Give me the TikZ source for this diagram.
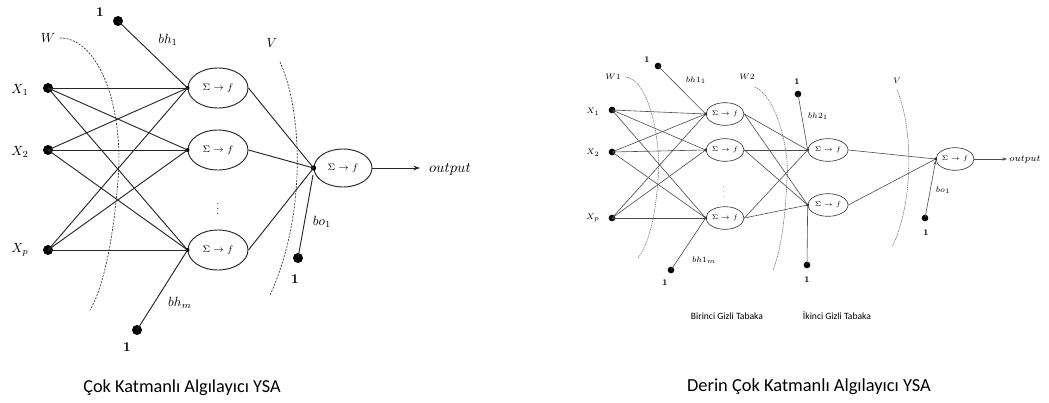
\documentclass[tikz,border=0pt]{standalone}
\usepackage{fontspec}
\newfontfamily\capfont{Carlito}
\usetikzlibrary{shapes.geometric,arrows.meta}
\begin{document}
\begin{tikzpicture}[x=0.75pt,y=-0.75pt,
  bigdot/.style={circle,fill=black,inner sep=0pt,minimum size=7.5pt},
  smalldot/.style={circle,fill=black,inner sep=0pt,minimum size=3pt},
  lneuron/.style={ellipse,draw=black!85,line width=0.7pt,minimum width=45pt,minimum height=30pt,inner sep=0pt,font=\fontsize{7}{8}\selectfont},
  rneuron/.style={ellipse,draw=black!75,line width=0.5pt,minimum width=28.5pt,minimum height=17pt,inner sep=0pt,font=\fontsize{5}{6}\selectfont},
  rbigdot/.style={circle,fill=black,inner sep=0pt,minimum size=5pt},
  rsmalldot/.style={circle,fill=black,inner sep=0pt,minimum size=2.2pt},
  lwire/.style={draw=black!85,line width=0.7pt},
  rwire/.style={draw=black!70,line width=0.45pt},
  llab/.style={font=\fontsize{10}{12}\selectfont},
  rlab/.style={font=\fontsize{6.5}{8}\selectfont},
  lone/.style={font=\fontsize{10}{12}\selectfont\bfseries},
  rone/.style={font=\fontsize{6.5}{8}\selectfont\bfseries},
  vdotlab/.style={inner sep=0pt},
  lcurve/.style={draw=black!80,dash pattern=on 1.5pt off 1pt,line width=0.5pt},
  rcurve/.style={draw=black!60,dash pattern=on 1pt off 0.6pt,line width=0.4pt}]
\useasboundingbox (0,0) rectangle (1049,403);

%%%%%%%%%%%%%%%% LEFT NETWORK %%%%%%%%%%%%%%%%
\node[bigdot] (lx1) at (48,88) {};
\node[bigdot] (lx2) at (48,150) {};
\node[bigdot] (lxp) at (48,250) {};
\node[llab] (lx1l) at (20,90) {$X_1$};
\node[llab] (lx2l) at (20,152) {$X_2$};
\node[llab] (lxpl) at (20,250) {$X_p$};

\node[lneuron] (lh1) at (218,88) {$\Sigma\rightarrow f$};
\node[lneuron] (lh2) at (218,150) {$\Sigma\rightarrow f$};
\node[lneuron] (lhm) at (218,250) {$\Sigma\rightarrow f$};
\node[smalldot] (lh1i) at (lh1.west) {};
\node[smalldot] (lh2i) at (lh2.west) {};
\node[smalldot] (lhmi) at (lhm.west) {};
\node[vdotlab,font=\fontsize{7}{8}\selectfont] (ldots) at (218,205) {$\vdots$};

\node[lneuron,minimum width=43.5pt,minimum height=28.5pt] (lo) at (343,168) {$\Sigma\rightarrow f$};
\node[smalldot,minimum size=4pt] (loi) at (lo.west) {};
\coordinate (lout) at (420,168);
\node[font=\fontsize{11}{13}\selectfont] (loutl) at (450,169) {$output$};

\node[bigdot] (lb1) at (118,21) {};
\node[lone] (lb1l) at (100,12) {1};
\node[llab] (lbh1) at (168,40) {$bh_1$};
\node[bigdot] (lbm) at (137,330) {};
\node[lone] (lbml) at (127,347) {1};
\node[llab] (lbhm) at (180,303) {$bh_m$};
\node[bigdot] (lbo) at (298,258) {};
\node[lone] (lbol) at (295,279) {1};
\node[llab] (lbo1) at (322,222) {$bo_1$};
\coordinate (lboend) at (313,175);

\node[llab] (lW) at (48,38) {$W$};
\node[llab] (lV) at (272,43) {$V$};

\foreach \a in {lx1,lx2,lxp}
  \foreach \b in {lh1i,lh2i,lhmi}
    \draw[lwire] (\a.center) -- (\b.center);
\draw[lwire] (lb1.center) -- (lh1i.center);
\draw[lwire] (lbm.center) -- (lhmi.center);
\draw[lwire] (lh1.east) -- (loi.center);
\draw[lwire] (lh2.east) -- (loi.center);
\draw[lwire] (lhm.east) -- (loi.center);
\draw[lwire] (lbo.center) -- (lboend);
\draw[lwire,-{Stealth[length=5pt,width=3.5pt]}] (lo.east) -- (lout);

\draw[lcurve] (lW.east) .. controls (100,38) and (124,110) .. (118,180)
  .. controls (113,245) and (102,290) .. (90,310);
\draw[lcurve] (280,62) .. controls (304,115) and (305,220) .. (270,295);

\node[font=\capfont\fontsize{13.7}{16}\selectfont] (lcap) at (182,388) {Çok Katmanlı Algılayıcı YSA};

%%%%%%%%%%%%%%%% RIGHT NETWORK %%%%%%%%%%%%%%%%
\node[rbigdot] (rx1) at (612,110) {};
\node[rbigdot] (rx2) at (612,152) {};
\node[rbigdot] (rxp) at (612,218) {};
\node[rlab] (rx1l) at (593,112) {$X_1$};
\node[rlab] (rx2l) at (593,153) {$X_2$};
\node[rlab] (rxpl) at (593,218) {$X_p$};

\node[rneuron] (rh1) at (725,114) {$\Sigma\rightarrow f$};
\node[rneuron] (rh2) at (725,150) {$\Sigma\rightarrow f$};
\node[rneuron] (rhm) at (725,218) {$\Sigma\rightarrow f$};
\node[rsmalldot] (rh1i) at (rh1.west) {};
\node[rsmalldot] (rh2i) at (rh2.west) {};
\node[rsmalldot] (rhmi) at (rhm.west) {};
\node[vdotlab,font=\fontsize{5}{6}\selectfont] (rdots) at (724,188) {$\vdots$};

\node[rneuron,minimum width=30pt] (rg1) at (828,150) {$\Sigma\rightarrow f$};
\node[rneuron,minimum width=30pt] (rg2) at (828,205) {$\Sigma\rightarrow f$};
\node[rsmalldot] (rg1i) at (rg1.west) {};
\node[rsmalldot] (rg2i) at (rg2.west) {};

\node[rneuron] (ro) at (955,159) {$\Sigma\rightarrow f$};
\node[rsmalldot] (roi) at (ro.west) {};
\coordinate (rout) at (1007,159);
\node[font=\fontsize{7.5}{9}\selectfont] (routl) at (1025,160) {$output$};

\node[rbigdot] (rb1) at (658,66) {};
\node[rone] (rb1l) at (647,60) {1};
\node[rlab] (rbh1) at (696,80) {$bh1_1$};
\node[rbigdot] (rbm) at (671,270) {};
\node[rone] (rbml) at (665,283) {1};
\node[rlab] (rbhm) at (704,260) {$bh1_m$};
\node[rbigdot] (rc1) at (798,94) {};
\node[rone] (rc1l) at (797,82) {1};
\node[rlab] (rbh2) at (818,116) {$bh2_1$};
\node[rbigdot] (rc2) at (807,265) {};
\node[rone] (rc2l) at (807,280) {1};
\node[rbigdot] (rbo) at (925,218) {};
\node[rone] (rbol) at (926,233) {1};
\node[rlab] (rbo1) at (943,190) {$bo_1$};

\node[rlab] (rW1) at (613,77) {$W1$};
\node[rlab] (rW2) at (747,77) {$W2$};
\node[rlab] (rV) at (897,81) {$V$};

\foreach \a in {rx1,rx2,rxp}
  \foreach \b in {rh1i,rh2i,rhmi}
    \draw[rwire] (\a.center) -- (\b.center);
\foreach \a in {rh1,rh2,rhm}
  \foreach \b in {rg1i,rg2i}
    \draw[rwire] (\a.east) -- (\b.center);
\draw[rwire] (rg1.east) -- (roi.center);
\draw[rwire] (rg2.east) -- (roi.center);
\draw[rwire] (rb1.center) -- (rh1i.center);
\draw[rwire] (rbm.center) -- (rhmi.center);
\draw[rwire] (rc1.center) -- (rg1i.center);
\draw[rwire] (rc2.center) -- (rg2i.center);
\draw[rwire,-{Stealth[length=3pt,width=2.2pt]}] (rbo.center) -- (roi.south);
\draw[rwire,-{Stealth[length=3.5pt,width=2.5pt]}] (ro.east) -- (rout);

\draw[rcurve] (rW1.east) .. controls (648,78) and (662,140) .. (658,180)
  .. controls (655,220) and (648,245) .. (638,258);
\draw[rcurve] (755,87) .. controls (776,96) and (790,150) .. (787,180)
  .. controls (785,220) and (781,250) .. (773,270);
\draw[rcurve] (897,90) .. controls (914,130) and (913,205) .. (892,247);

\node[font=\capfont\fontsize{7.2}{8}\selectfont] (rt1) at (727,316) {Birinci Gizli Tabaka};
\node[font=\capfont\fontsize{7.2}{8}\selectfont] (rt2) at (837,316) {İkinci Gizli Tabaka};
\node[font=\capfont\fontsize{13.8}{16}\selectfont] (rcap) at (809,387) {Derin Çok Katmanlı Algılayıcı YSA};
\end{tikzpicture}
\end{document}
